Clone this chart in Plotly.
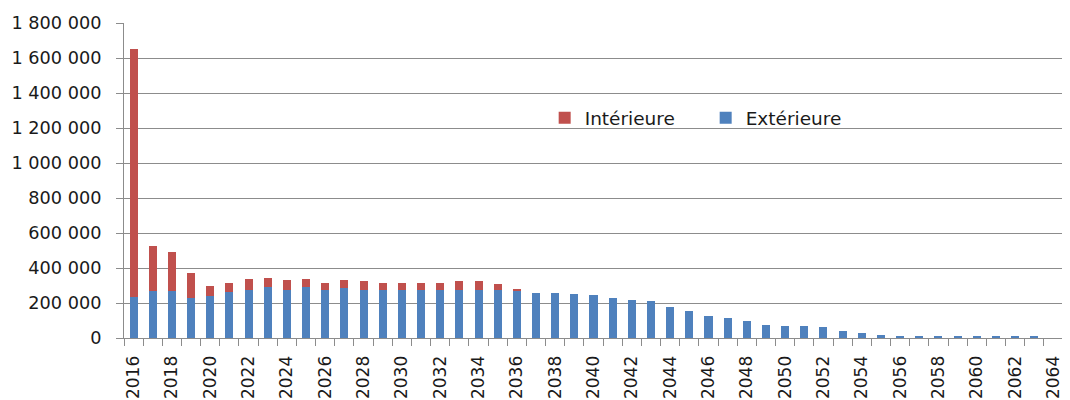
import plotly.graph_objects as go

years = list(range(2016, 2065))

exterieure = [233000, 266000, 266000, 230000, 241000, 262000, 273000, 290000, 277000, 290000,
              277000, 287000, 277000, 277000, 273000, 273000, 273000, 277000, 277000, 273000,
              266000, 260000, 260000, 254000, 248000, 230000, 216000, 210000, 178000, 153000,
              127000, 115000, 95000, 76000, 70000, 70000, 63000, 38000, 30000, 19000,
              13000, 8000, 8000, 8000, 8000, 8000, 8000, 8000, 0]

interieure = [1417000, 261000, 228000, 144000, 57000, 55000, 63000, 52000, 52000, 46000,
              40000, 42000, 46000, 40000, 44000, 44000, 44000, 46000, 46000, 38000,
              15000] + [0] * 28

y_tickvals = [0, 200000, 400000, 600000, 800000, 1000000, 1200000, 1400000, 1600000, 1800000]
y_ticktext = ["0", "200 000", "400 000", "600 000", "800 000", "1 000 000",
              "1 200 000", "1 400 000", "1 600 000", "1 800 000"]
x_tickvals = years[::2]
x_ticktext = [str(y) for y in x_tickvals]

BLUE = "#4F81BD"
RED = "#C0504D"
FONT = "DejaVu Sans"
TXT = "#1a1a1a"
GRID = "#8c8c8c"

fig = go.Figure()
fig.add_trace(go.Bar(x=years, y=exterieure, name="Extérieure", marker_color=BLUE,
                     marker_line_width=0, legendrank=2))
fig.add_trace(go.Bar(x=years, y=interieure, name="Intérieure", marker_color=RED,
                     marker_line_width=0, legendrank=1))

# page body has an 8px margin, so the figure is sized to fit the 1070x400 window
fig.update_layout(
    barmode="stack",
    bargap=0.58,
    width=1062, height=392,
    margin=dict(l=116, r=7, t=15, b=62, autoexpand=False),
    paper_bgcolor="white",
    plot_bgcolor="white",
    font=dict(family=FONT, size=17, color=TXT),
    showlegend=True,
    legend=dict(orientation="h", x=0.448, xanchor="left", y=0.698, yanchor="middle",
                font=dict(family=FONT, size=18.5, color=TXT),
                bgcolor="rgba(0,0,0,0)", entrywidth=116, traceorder="normal"),
)

fig.update_xaxes(
    range=[2015.5, 2064.5],
    tickmode="array", tickvals=x_tickvals, ticktext=x_ticktext,
    tickangle=-90, ticks="", ticklabelstandoff=10,
    tickfont=dict(family=FONT, size=17, color=TXT),
    showline=True, linecolor=GRID, linewidth=1,
    showgrid=False, zeroline=False, automargin=False,
    minor=dict(ticks="outside", ticklen=7, tickcolor=GRID, tickwidth=1,
               tick0=2015.5, dtick=1, showgrid=False),
)

fig.update_yaxes(
    range=[0, 1800000],
    tickmode="array", tickvals=y_tickvals, ticktext=y_ticktext,
    ticks="outside", ticklen=7, tickcolor=GRID, tickwidth=1,
    ticklabelstandoff=11,
    tickfont=dict(family=FONT, size=17.7, color=TXT),
    showline=True, linecolor=GRID, linewidth=1,
    showgrid=True, gridcolor=GRID, gridwidth=1,
    zeroline=False, automargin=False,
)

fig.write_html("out.html")
